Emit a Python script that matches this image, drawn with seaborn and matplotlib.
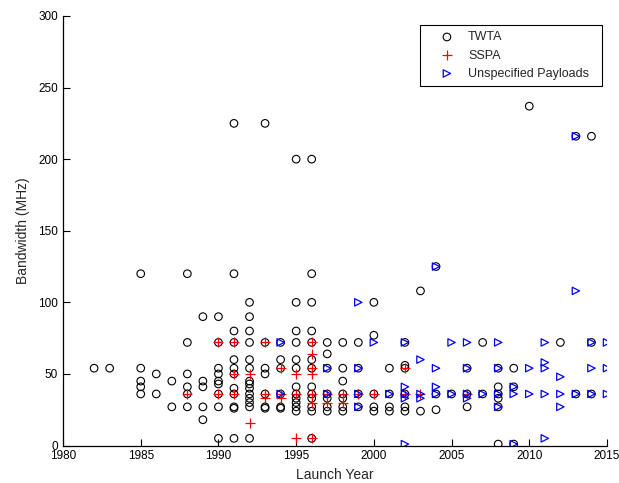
import matplotlib
matplotlib.use("Agg")
import matplotlib.pyplot as plt
import seaborn as sns
import pandas as pd

# ---------------- data ----------------
twta_year = (
    [1982, 1983]
    + [1985] * 5
    + [1986] * 2
    + [1987] * 2
    + [1988] * 6
    + [1989] * 5
    + [1990] * 9
    + [1991] * 12
    + [1992] * 14
    + [1993] * 7
    + [1994] * 6
    + [1995] * 12
    + [1996] * 13
    + [1997] * 7
    + [1998] * 7
    + [1999] * 4
    + [2000] * 5
    + [2001] * 4
    + [2002] * 6
    + [2003] * 2
    + [2004] * 3
    + [2005] * 1
    + [2006] * 3
    + [2007] * 2
    + [2008] * 6
    + [2009] * 3
    + [2010] * 1
    + [2012] * 1
    + [2013] * 2
    + [2014] * 3
)
twta_bw = (
    [54, 54]
    + [120, 54, 45, 41, 36]
    + [50, 36]
    + [45, 27]
    + [120, 72, 50, 41, 36, 27]
    + [90, 45, 41, 27, 18]
    + [90, 72, 54, 50, 45, 43, 36, 27, 5]
    + [225, 120, 80, 72, 60, 54, 50, 40, 36, 27, 26, 5]
    + [100, 90, 80, 72, 60, 54, 45, 43, 40, 36, 33, 30, 27, 5]
    + [225, 72, 54, 50, 36, 27, 26]
    + [72, 60, 54, 36, 27, 26]
    + [200, 100, 80, 72, 60, 54, 41, 36, 33, 30, 27, 24]
    + [200, 120, 100, 80, 72, 60, 54, 41, 36, 33, 27, 24, 5]
    + [72, 64, 54, 36, 33, 27, 24]
    + [72, 54, 45, 36, 33, 27, 24]
    + [72, 54, 36, 27]
    + [100, 77, 36, 27, 24]
    + [54, 36, 27, 24]
    + [72, 56, 54, 36, 27, 24]
    + [108, 24]
    + [125, 36, 25]
    + [36]
    + [54, 36, 27]
    + [72, 36]
    + [54, 41, 36, 33, 27, 1]
    + [54, 41, 1]
    + [237]
    + [72]
    + [216, 36]
    + [216, 72, 36]
)

sspa_year = (
    [1988]
    + [1990] * 2
    + [1991] * 3
    + [1992] * 2
    + [1993] * 3
    + [1994] * 3
    + [1995] * 3
    + [1996] * 7
    + [1997] * 2
    + [1998] * 2
    + [1999, 2000]
    + [2002] * 2
    + [2003, 2006]
)
sspa_bw = (
    [36]
    + [72, 36]
    + [72, 50, 36]
    + [50, 16]
    + [72, 36, 33]
    + [54, 36, 33]
    + [50, 36, 5]
    + [72, 64, 54, 50, 36, 30, 5]
    + [36, 30]
    + [36, 30]
    + [36, 36]
    + [54, 36]
    + [36, 36]
)

unsp_year = (
    [1994] * 2
    + [1997] * 2
    + [1999] * 4
    + [2000]
    + [2001]
    + [2002] * 5
    + [2003] * 3
    + [2004] * 4
    + [2005] * 2
    + [2006] * 4
    + [2007]
    + [2008] * 4
    + [2009] * 3
    + [2010] * 2
    + [2011] * 5
    + [2012] * 3
    + [2013] * 3
    + [2014] * 3
    + [2015] * 3
)
unsp_bw = (
    [72, 36]
    + [54, 36]
    + [100, 54, 36, 27]
    + [72]
    + [36]
    + [72, 41, 36, 33, 1]
    + [60, 36, 33]
    + [125, 54, 41, 36]
    + [72, 36]
    + [72, 54, 36, 33]
    + [36]
    + [72, 54, 36, 27]
    + [41, 36, 1]
    + [54, 36]
    + [72, 58, 54, 36, 5]
    + [48, 36, 27]
    + [216, 108, 36]
    + [72, 54, 36]
    + [72, 54, 36]
)

x_ticks = [1980, 1985, 1990, 1995, 2000, 2005, 2010, 2015]
y_ticks = [0, 50, 100, 150, 200, 250, 300]

twta = pd.DataFrame({"year": twta_year, "bw": twta_bw})
sspa = pd.DataFrame({"year": sspa_year, "bw": sspa_bw})
unsp = pd.DataFrame({"year": unsp_year, "bw": unsp_bw})

# ---------------- plot ----------------
sns.set_style("white")
plt.rcParams["font.family"] = ["Liberation Sans", "DejaVu Sans"]

fig = plt.figure(figsize=(6.19, 4.83), dpi=100)
ax = fig.add_axes([0.1018, 0.0776, 0.8788, 0.8893])

sns.scatterplot(data=twta, x="year", y="bw", ax=ax, marker="o", s=30,
                facecolors="none", edgecolors="black", linewidths=0.8,
                label="TWTA", zorder=3)
sns.scatterplot(data=sspa, x="year", y="bw", ax=ax, marker="+", s=50,
                color="red", linewidths=0.9, label="SSPA", zorder=4)
sns.scatterplot(data=unsp, x="year", y="bw", ax=ax, marker=">", s=28,
                facecolors="none", edgecolors="blue", linewidths=0.9,
                label="Unspecified Payloads", zorder=5)

ax.set_xlim(1980, 2015)
ax.set_ylim(0, 300)
ax.set_xticks(x_ticks)
ax.set_yticks(y_ticks)
ax.tick_params(direction="in", length=5, width=0.8, labelsize=8.5,
               colors="black", bottom=True, left=True)
for side in ["top", "right"]:
    ax.spines[side].set_visible(False)
for side in ["left", "bottom"]:
    ax.spines[side].set_color("black")
    ax.spines[side].set_linewidth(0.9)

ax.set_xlabel("Launch Year", fontsize=10, labelpad=4)
ax.set_ylabel("Bandwidth (MHz)", fontsize=10, labelpad=6)

leg = ax.legend(loc="upper left", bbox_to_anchor=(0.6563, 0.872, 0.3346, 0.107),
                mode="expand", borderaxespad=0, fontsize=9, frameon=True,
                fancybox=False, edgecolor="black", framealpha=1,
                handletextpad=0.05, borderpad=0.5, labelspacing=0.5,
                handlelength=3.3)
leg.get_frame().set_linewidth(0.8)

fig.savefig("out.png", dpi=100, facecolor="white")
